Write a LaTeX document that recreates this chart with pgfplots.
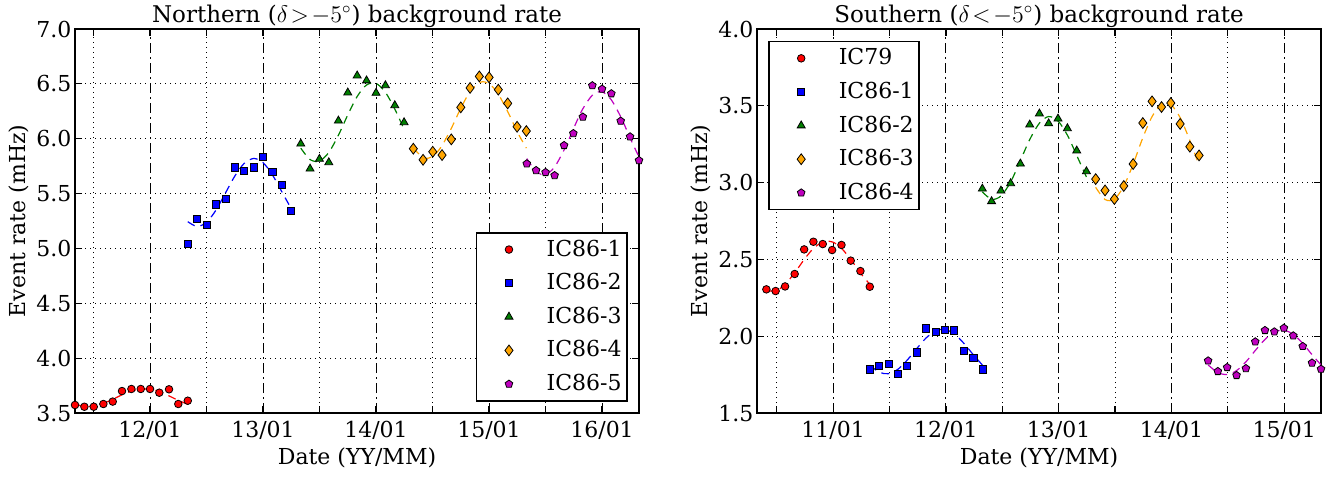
\documentclass[border=0pt]{standalone}
\usepackage{fontspec}
\setmainfont{DejaVu Serif}
\newfontfamily\seriffont{DejaVu Serif}
\usepackage{pgfplots}
\pgfplotsset{compat=1.18}
\definecolor{mplred}{RGB}{255,0,0}
\definecolor{mplblue}{RGB}{0,0,255}
\definecolor{mplgreen}{RGB}{0,128,0}
\definecolor{mplorange}{RGB}{255,165,0}
\definecolor{mplmag}{RGB}{191,0,191}

\pgfplotsset{
  myaxis/.style={
    scale only axis, width=282pt, height=192pt,
    /pgf/number format/assume math mode=true,
    axis line style={black, line width=0.8pt},
    tick align=inside,
    major tick length=3.5pt,
    tick style={black, line width=0.6pt},
    xmajorgrids, ymajorgrids,
    major grid style={black, line width=0.5pt, dotted},
    xticklabels={},
    extra x tick style={grid=major, major grid style={black, line width=0.5pt, dash pattern=on 5pt off 2pt on 1pt off 2pt}},
    tick label style={font=\seriffont\fontsize{11}{13}\selectfont},
    yticklabel style={xshift=2pt},
    every axis title/.style={at={(axis description cs:0.5,1)}, anchor=base, yshift=3.5pt, font=\seriffont\fontsize{11.5}{13}\selectfont},
    every axis x label/.style={at={(axis description cs:0.5,0)}, anchor=center, yshift=-22.5pt, font=\seriffont\fontsize{11}{13}\selectfont},
    every axis y label/.style={at={(axis description cs:0,0.5)}, xshift=-28pt, rotate=90, anchor=center, font=\seriffont\fontsize{11}{13}\selectfont},
    xlabel={Date (YY/MM)},
    ylabel={Event rate (mHz)},
    legend cell align=left,
    legend style={draw=black, line width=0.8pt, fill=white, font=\seriffont\fontsize{11}{13}\selectfont,
      nodes={font=\seriffont\fontsize{11}{13}\selectfont},
      inner xsep=0.7pt, inner ysep=1.5pt, row sep=3.0pt},
    legend image code/.code={\path[draw=none] (-15.5pt,0pt) -- (16.8pt,0pt); \draw[#1] plot coordinates {(0pt,0pt)};},
  },
  fitline/.style={forget plot, line width=0.6pt, dash pattern=on 4pt off 3pt, smooth, no marks},
  sred/.style={only marks, mark=*, mark size=1.9pt, mark options={draw=black, fill=mplred, line width=0.4pt, solid}},
  sblue/.style={only marks, mark=square*, mark size=1.8pt, mark options={draw=black, fill=mplblue, line width=0.4pt, solid}},
  sgreen/.style={only marks, mark=triangle*, mark size=2.3pt, mark options={draw=black, fill=mplgreen, line width=0.4pt, solid}},
  sorange/.style={only marks, mark=diamond*, mark size=2.7pt, mark options={draw=black, fill=mplorange, line width=0.4pt, solid}},
  smag/.style={only marks, mark=pentagon*, mark size=2.0pt, mark options={draw=black, fill=mplmag, line width=0.4pt, solid}},
}

\begin{document}
\fontsize{11}{13}\selectfont
\begin{tikzpicture}[font=\seriffont\fontsize{11}{13}\selectfont]
\useasboundingbox (0,0) rectangle (669pt,238.5pt);
% ---------------- Left panel ----------------
\begin{axis}[myaxis, at={(37.5pt,32pt)}, anchor=south west,
  xmin=11.336, xmax=16.327, ymin=3.5, ymax=7.0,
  xtick={11.5,12.5,13.5,14.5,15.5},
  extra x ticks={12,13,14,15,16},
  extra x tick labels={12/01,13/01,14/01,15/01,16/01},
  ytick={3.5,4.0,4.5,5.0,5.5,6.0,6.5,7.0},
  yticklabels={3.5,4.0,4.5,5.0,5.5,6.0,6.5,7.0},
  title={Northern ($\delta\!>\!-5^\circ$) background rate},
  legend style={at={(0.98,0.0295)}, anchor=south east},
]
% fits
\addplot[fitline, mplred] coordinates {(11.336,3.580) (11.42,3.561) (11.5,3.564) (11.58,3.585) (11.67,3.625) (11.75,3.665) (11.83,3.698) (11.92,3.719) (12.0,3.716) (12.08,3.695) (12.17,3.655) (12.25,3.615) (12.334,3.580)};
\addplot[fitline, mplblue] coordinates {(12.334,5.244) (12.416,5.200) (12.5,5.238) (12.584,5.350) (12.67,5.510) (12.75,5.659) (12.832,5.774) (12.918,5.820) (13.0,5.782) (13.082,5.673) (13.166,5.517) (13.248,5.365)};
\addplot[fitline, mplgreen] coordinates {(13.334,5.914) (13.416,5.810) (13.499,5.796) (13.582,5.875) (13.667,6.032) (13.75,6.217) (13.833,6.385) (13.916,6.490) (14.0,6.504) (14.083,6.423) (14.166,6.270) (14.248,6.087)};
\addplot[fitline, mplorange] coordinates {(14.33,5.914) (14.42,5.826) (14.5,5.837) (14.58,5.931) (14.67,6.103) (14.75,6.278) (14.83,6.426) (14.92,6.514) (15.0,6.503) (15.08,6.409) (15.17,6.237) (15.25,6.062) (15.33,5.914)};
\addplot[fitline, mplmag] coordinates {(15.334,5.819) (15.42,5.697) (15.5,5.673) (15.58,5.743) (15.67,5.910) (15.75,6.098) (15.83,6.273) (15.92,6.403) (16.0,6.427) (16.08,6.357) (16.17,6.190) (16.25,6.002) (16.33,5.827)};
% data
\addplot[sred] coordinates {(11.336,3.573) (11.419,3.557) (11.502,3.557) (11.587,3.582) (11.670,3.604) (11.752,3.700) (11.835,3.719) (11.918,3.719) (12.000,3.719) (12.082,3.685) (12.168,3.716) (12.250,3.582) (12.334,3.612)};
\addlegendentry{IC86-1}
\addplot[sblue] coordinates {(12.334,5.039) (12.416,5.270) (12.502,5.213) (12.584,5.402) (12.670,5.450) (12.750,5.738) (12.832,5.708) (12.918,5.738) (13.000,5.836) (13.082,5.699) (13.166,5.580) (13.248,5.343)};
\addlegendentry{IC86-2}
\addplot[sgreen] coordinates {(13.334,5.954) (13.416,5.726) (13.499,5.815) (13.582,5.784) (13.667,6.164) (13.750,6.420) (13.833,6.575) (13.916,6.530) (14.000,6.417) (14.083,6.486) (14.166,6.304) (14.248,6.149)};
\addlegendentry{IC86-3}
\addplot[sorange] coordinates {(14.330,5.909) (14.416,5.808) (14.502,5.881) (14.584,5.851) (14.666,5.994) (14.750,6.286) (14.832,6.463) (14.914,6.568) (15.000,6.559) (15.082,6.447) (15.165,6.322) (15.248,6.109) (15.330,6.070)};
\addlegendentry{IC86-4}
\addplot[smag] coordinates {(15.334,5.772) (15.416,5.711) (15.500,5.693) (15.580,5.665) (15.664,5.939) (15.746,6.048) (15.830,6.198) (15.914,6.484) (16.000,6.453) (16.082,6.411) (16.165,6.161) (16.248,6.018) (16.327,5.802)};
\addlegendentry{IC86-5}
\end{axis}
% ---------------- Right panel ----------------
\begin{axis}[myaxis, at={(378.5pt,32pt)}, anchor=south west,
  xmin=10.325, xmax=15.326, ymin=1.5, ymax=4.0,
  xtick={10.5,11.5,12.5,13.5,14.5},
  extra x ticks={11,12,13,14,15},
  extra x tick labels={11/01,12/01,13/01,14/01,15/01},
  ytick={1.5,2.0,2.5,3.0,3.5,4.0},
  yticklabels={1.5,2.0,2.5,3.0,3.5,4.0},
  title={Southern ($\delta\!<\!-5^\circ$) background rate},
  legend style={at={(0.0195,0.9695)}, anchor=north west},
]
% fits
\addplot[fitline, mplred] coordinates {(10.408,2.296) (10.5,2.298) (10.58,2.342) (10.67,2.424) (10.75,2.506) (10.83,2.575) (10.92,2.617) (11.0,2.612) (11.08,2.568) (11.17,2.486) (11.25,2.404) (11.325,2.338)};
\addplot[fitline, mplblue] coordinates {(11.325,1.811) (11.41,1.765) (11.49,1.756) (11.575,1.785) (11.66,1.847) (11.74,1.918) (11.825,1.989) (11.91,2.035) (11.99,2.044) (12.075,2.015) (12.16,1.953) (12.24,1.882) (12.325,1.811)};
\addplot[fitline, mplgreen] coordinates {(12.323,2.940) (12.405,2.891) (12.488,2.913) (12.574,3.004) (12.66,3.143) (12.743,3.280) (12.829,3.387) (12.911,3.430) (12.994,3.401) (13.077,3.309) (13.16,3.177) (13.246,3.036)};
\addplot[fitline, mplorange] coordinates {(13.328,2.969) (13.411,2.890) (13.494,2.892) (13.577,2.977) (13.66,3.120) (13.746,3.292) (13.828,3.430) (13.912,3.511) (13.994,3.508) (14.077,3.423) (14.163,3.274) (14.245,3.111)};
\addplot[fitline, mplmag] coordinates {(14.325,1.813) (14.411,1.763) (14.494,1.751) (14.577,1.776) (14.66,1.833) (14.743,1.907) (14.829,1.979) (14.912,2.027) (14.997,2.039) (15.08,2.012) (15.164,1.953) (15.246,1.880) (15.326,1.813)};
% data
\addplot[sred] coordinates {(10.408,2.305) (10.490,2.294) (10.574,2.324) (10.659,2.405) (10.743,2.565) (10.825,2.615) (10.908,2.600) (10.991,2.561) (11.074,2.594) (11.156,2.492) (11.242,2.424) (11.325,2.322)};
\addlegendentry{IC79}
\addplot[sblue] coordinates {(11.325,1.784) (11.408,1.808) (11.491,1.821) (11.573,1.756) (11.657,1.808) (11.742,1.894) (11.826,2.051) (11.908,2.029) (11.991,2.040) (12.074,2.038) (12.159,1.904) (12.243,1.860) (12.325,1.784)};
\addlegendentry{IC86-1}
\addplot[sgreen] coordinates {(12.323,2.960) (12.405,2.878) (12.488,2.947) (12.574,2.995) (12.660,3.123) (12.743,3.377) (12.829,3.449) (12.911,3.385) (12.994,3.416) (13.077,3.353) (13.160,3.208) (13.246,3.073)};
\addlegendentry{IC86-2}
\addplot[sorange] coordinates {(13.328,3.023) (13.411,2.949) (13.494,2.893) (13.577,2.978) (13.660,3.121) (13.746,3.388) (13.828,3.529) (13.912,3.492) (13.994,3.518) (14.077,3.382) (14.163,3.234) (14.245,3.177)};
\addlegendentry{IC86-3}
\addplot[smag] coordinates {(14.325,1.840) (14.411,1.771) (14.494,1.797) (14.577,1.745) (14.660,1.790) (14.743,1.964) (14.829,2.038) (14.912,2.029) (14.997,2.053) (15.080,2.003) (15.164,1.934) (15.246,1.826) (15.326,1.786)};
\addlegendentry{IC86-4}
\end{axis}
\end{tikzpicture}
\end{document}
